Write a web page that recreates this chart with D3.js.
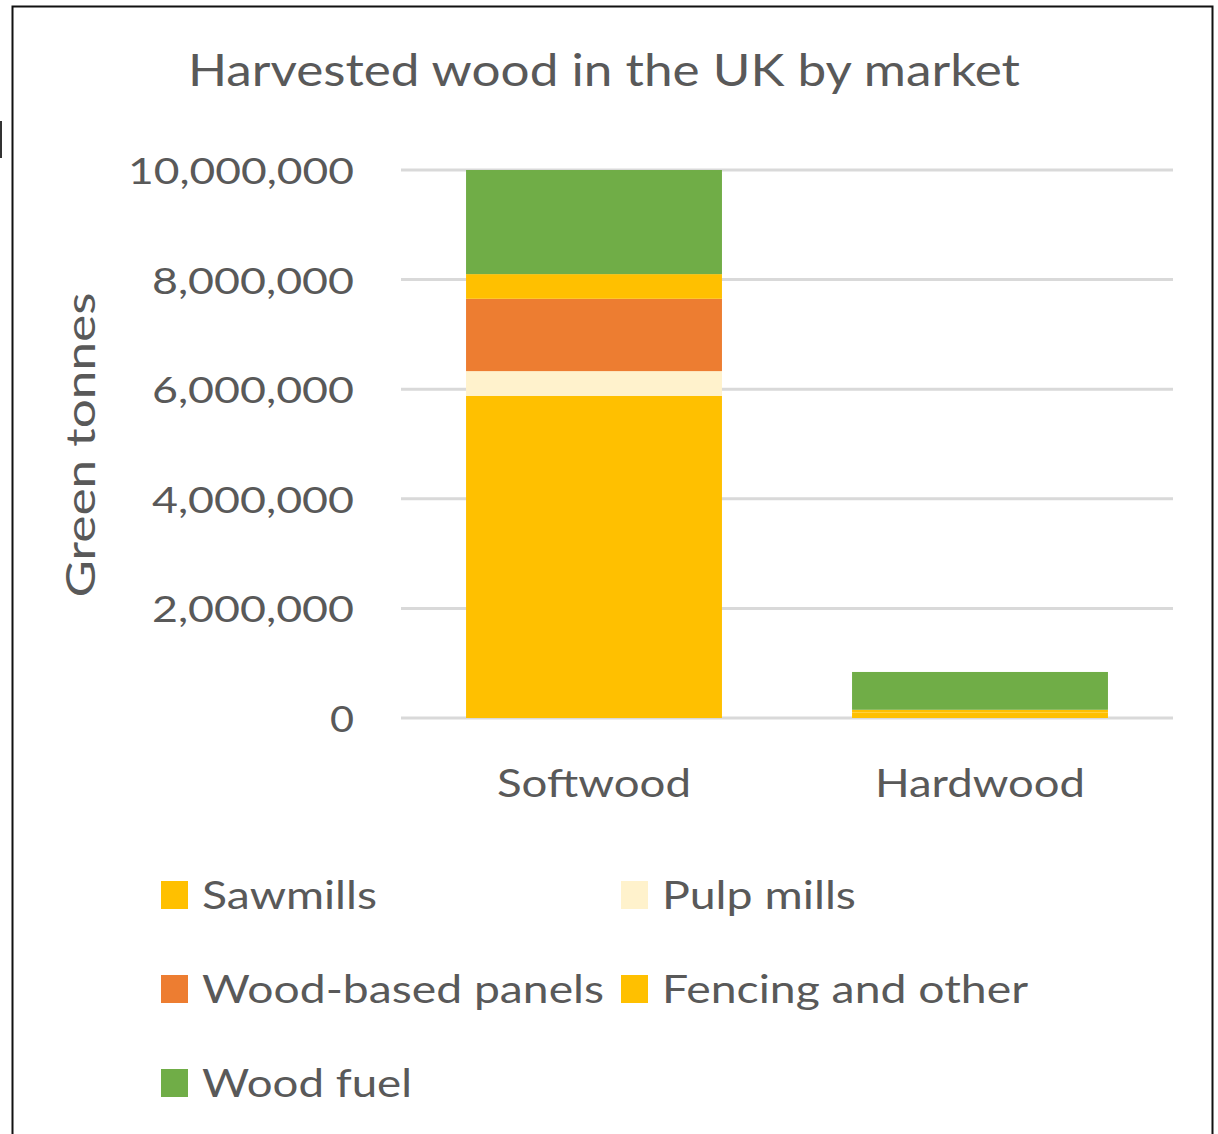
<!DOCTYPE html>
<html>
<head>
<meta charset="utf-8">
<script src="https://cdn.jsdelivr.net/npm/d3@7/dist/d3.min.js"></script>
<style>
  html, body { margin: 0; padding: 0; background: #fff; }
  svg { display: block; }
  text { font-family: Lato, "Open Sans", sans-serif; fill: #595959; }
</style>
</head>
<body>
<svg id="chart" width="1218" height="1134"></svg>
<script>
// ---- data ----
const categories = ["Softwood", "Hardwood"];
const seriesNames = ["Sawmills", "Pulp mills", "Wood-based panels", "Fencing and other", "Wood fuel"];
const seriesColors = ["#FFC000", "#FFF2CC", "#ED7D31", "#FFC000", "#70AD47"];
const sawmills = [5880000, 100000];
const pulpMills = [450000, 0];
const woodBasedPanels = [1320000, 0];
const fencingAndOther = [450000, 50000];
const woodFuel = [1900000, 690000];
const yTicks = [0, 2000000, 4000000, 6000000, 8000000, 10000000];
const titleText = "Harvested wood in the UK by market";
const yAxisTitle = "Green tonnes";

const seriesValues = [sawmills, pulpMills, woodBasedPanels, fencingAndOther, woodFuel];
const rows = categories.map((c, i) => {
  const r = { cat: c };
  seriesNames.forEach((s, k) => r[s] = seriesValues[k][i]);
  return r;
});

const svg = d3.select("#chart");

// frame
svg.append("path")
  .attr("d", "M12.5,1134 L12.5,6.5 L1212.5,6.5 L1212.5,1134")
  .attr("fill", "none").attr("stroke", "#111").attr("stroke-width", 2);
svg.append("rect").attr("x", 0).attr("y", 121).attr("width", 2).attr("height", 37).attr("fill", "#333");

// fit helper
function fit(sel, w) {
  const n = sel.node();
  const cw = n.getComputedTextLength();
  if (Math.abs(cw - w) > 1) sel.attr("textLength", w).attr("lengthAdjust", "spacingAndGlyphs");
  return sel;
}

// scales
const x = d3.scaleBand().domain(categories).range([401, 1173]).paddingInner(0.337).paddingOuter(0.1685);
const y = d3.scaleLinear().domain([0, 10000000]).range([718, 170]);

// grid
svg.append("g").selectAll("line").data(yTicks).join("line")
  .attr("x1", 401).attr("x2", 1173)
  .attr("y1", d => y(d)).attr("y2", d => y(d))
  .attr("stroke", "#d9d9d9").attr("stroke-width", 3);

// y axis labels
const yAxis = d3.axisLeft(y).tickValues(yTicks).tickFormat(d3.format(",")).tickSize(0).tickPadding(0);
const ya = svg.append("g").attr("transform", "translate(354,0)").call(yAxis);
ya.select(".domain").remove();
ya.selectAll("text")
  .attr("font-family", "Lato, sans-serif")
  .style("font-size", "37.5px").attr("fill", "#595959")
  .attr("dy", null).attr("y", 13.5);
ya.selectAll("text").each(function(d) {
  const t = d3.select(this);
  const target = { 0: 24, 2000000: 202, 4000000: 202, 6000000: 202, 8000000: 202, 10000000: 226 }[d];
  fit(t, target);
});

// bars
const stack = d3.stack().keys(seriesNames)(rows);
svg.append("g").selectAll("g").data(stack).join("g")
  .attr("fill", (d, i) => seriesColors[i])
  .selectAll("rect").data(d => d).join("rect")
  .attr("x", d => x(d.data.cat))
  .attr("width", x.bandwidth())
  .attr("y", d => y(d[1]))
  .attr("height", d => y(d[0]) - y(d[1]));

// x labels
const xAxis = d3.axisBottom(x).tickSize(0).tickPadding(0);
const xa = svg.append("g").attr("transform", "translate(0,797)").call(xAxis);
xa.select(".domain").remove();
xa.selectAll("text")
  .attr("font-family", "Lato, sans-serif")
  .style("font-size", "39px").attr("fill", "#595959")
  .attr("dy", null).attr("y", 0);
xa.selectAll("text").each(function(d) { fit(d3.select(this), d === "Softwood" ? 194 : 210); });

// title
fit(svg.append("text").attr("x", 604).attr("y", 86).attr("text-anchor", "middle")
  .style("font-size", "44px").text(titleText), 832);

// y axis title
fit(svg.append("text").attr("transform", "translate(95,445) rotate(-90)").attr("text-anchor", "middle")
  .style("font-size", "40px").text(yAxisTitle), 305);

// legend
const legendPos = [[161, 881], [621, 881], [161, 975], [621, 975], [161, 1069]];
const legendW = [175, 194, 402, 366, 210];
const lg = svg.append("g").selectAll("g").data(seriesNames).join("g")
  .attr("transform", (d, i) => `translate(${legendPos[i][0]},${legendPos[i][1]})`);
lg.append("rect").attr("width", 27).attr("height", 28).attr("fill", (d, i) => seriesColors[i]);
lg.append("text").attr("x", 41).attr("y", 28).style("font-size", "39px").text(d => d)
  .each(function(d, i) { fit(d3.select(this), legendW[i]); });
</script>
</body>
</html>
